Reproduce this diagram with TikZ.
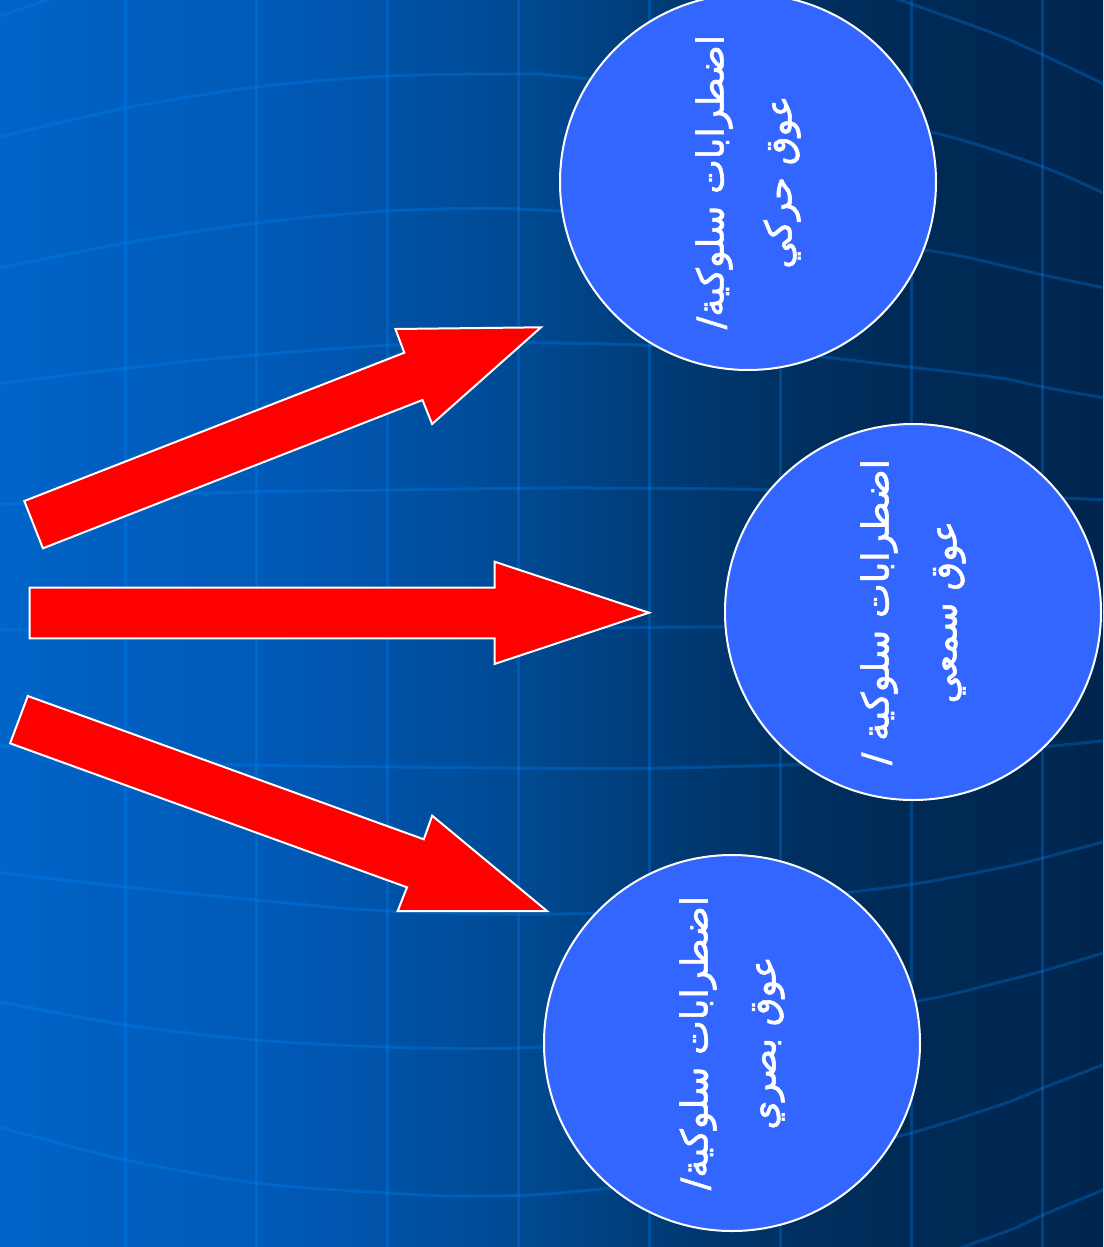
\documentclass[tikz,border=0pt]{standalone}
\usepackage{fontspec}
\newfontfamily\arabicfont[Script=Arabic,FakeBold=1.6]{DejaVu Sans}
\TeXXeTstate=1
\definecolor{bgA}{HTML}{0064C8}
\definecolor{bgB}{HTML}{0058B4}
\definecolor{bgC}{HTML}{00488F}
\definecolor{bgD}{HTML}{003D7A}
\definecolor{bgE}{HTML}{003060}
\definecolor{bgF}{HTML}{002A56}
\definecolor{bgG}{HTML}{00264F}
\definecolor{gridc}{RGB}{0,136,255}
\definecolor{circfill}{RGB}{51,102,255}
\tikzset{
  gridline/.style={draw=gridc, draw opacity=0.28, line width=3pt},
  blockarrow/.style={fill=red, draw=white, line width=2pt, line join=miter},
  bubble/.style={circle, fill=circfill, draw=white, line width=2pt, minimum size=376pt, inner sep=0pt},
  bubbletext/.style={rotate=90, align=center, text=white, font=\arabicfont\fontsize{37}{68}\selectfont}
}
\begin{document}
\begin{tikzpicture}[x=1pt,y=-1pt]
\useasboundingbox (0,0) rectangle (1103,1247);
% background
\fill[left color=bgA, right color=bgB] (0,0) rectangle (300,1247);
\fill[left color=bgB, right color=bgC] (299.5,0) rectangle (540,1247);
\fill[left color=bgC, right color=bgD] (539.5,0) rectangle (640,1247);
\fill[left color=bgD, right color=bgE] (639.5,0) rectangle (800,1247);
\fill[left color=bgE, right color=bgF] (799.5,0) rectangle (900,1247);
\fill[left color=bgF, right color=bgG] (899.5,0) rectangle (1103,1247);
% grid
\begin{scope}
\clip (0,0) rectangle (1103,1247);
\foreach \gx in {125.7,256.6,387.5,518.4,649.3,780.2,911.1,1042}
  \draw[gridline] (\gx,-5) -- (\gx,1252);
\draw[gridline] (-5,18) -- (58,-4);
\draw[gridline] plot[smooth] coordinates {(880,-8) (900,0) (990,32) (1043,55) (1110,87)};
\draw[gridline] plot[smooth] coordinates {(-5,138) (126,108) (256,87) (387,76) (518,74) (560,76) (750,98) (935,133) (1043,167) (1110,196)};
\draw[gridline] plot[smooth] coordinates {(-5,269) (126,243) (256,223) (387,211) (518,209) (700,222) (925,250) (1000,265) (1043,275) (1110,289)};
\draw[gridline] plot[smooth] coordinates {(-5,384) (200,360) (393,345) (560,343) (750,350) (900,366) (1000,378) (1043,387) (1110,399)};
\draw[gridline] plot[smooth] coordinates {(-5,505) (214,493) (393,490) (560,488) (730,489) (900,492) (1110,500)};
\draw[gridline] plot[smooth] coordinates {(-5,630) (300,629) (560,628) (900,625) (1110,620)};
\draw[gridline] plot[smooth] coordinates {(-5,745) (194,763) (400,767) (660,768) (900,760) (1110,740)};
\draw[gridline] plot[smooth] coordinates {(-5,872) (126,887) (256,900) (387,911) (560,914) (730,905) (900,886) (1000,868) (1043,858) (1110,840)};
\draw[gridline] plot[smooth] coordinates {(-5,1001) (126,1025) (256,1040) (387,1047) (518,1048) (700,1035) (918,1001) (1000,982) (1043,971) (1110,951)};
\draw[gridline] plot[smooth] coordinates {(-5,1126) (126,1160) (256,1183) (387,1193) (460,1196) (560,1193) (750,1170) (900,1136) (1000,1105) (1043,1088) (1110,1062)};
\draw[gridline] plot[smooth] coordinates {(940,1255) (1010,1230) (1043,1215) (1110,1187)};
\end{scope}
% arrows
\draw[blockarrow] (24.3,501) -- (404.3,352.7) -- (395.4,329) -- (541,327.3) -- (432.1,424) -- (422.5,400) -- (42.9,548.3) -- cycle;
\draw[blockarrow] (29.5,587.7) -- (494.5,587.7) -- (494.5,561.7) -- (649,612.7) -- (494.5,664) -- (494.5,638.3) -- (29.5,638.3) -- cycle;
\draw[blockarrow] (27.8,696) -- (423.8,839.3) -- (432.2,815.7) -- (547,911) -- (397.7,911) -- (407,887.3) -- (10.1,743.3) -- cycle;
% circles
\node[bubble] (c1) at (748,182) {};
\node[bubble] (c2) at (913,612) {};
\node[bubble] (c3) at (732,1043) {};
\node[bubbletext] (t1) at (c1.center) {\beginR اضطرابات سلوكية/\endR\\\beginR عوق حركي\endR};
\node[bubbletext] (t2) at (c2.center) {\beginR اضطرابات سلوكية /\endR\\\beginR عوق سمعي\endR};
\node[bubbletext] (t3) at (c3.center) {\beginR اضطرابات سلوكية/\endR\\\beginR عوق بصري\endR};
\end{tikzpicture}
\end{document}
